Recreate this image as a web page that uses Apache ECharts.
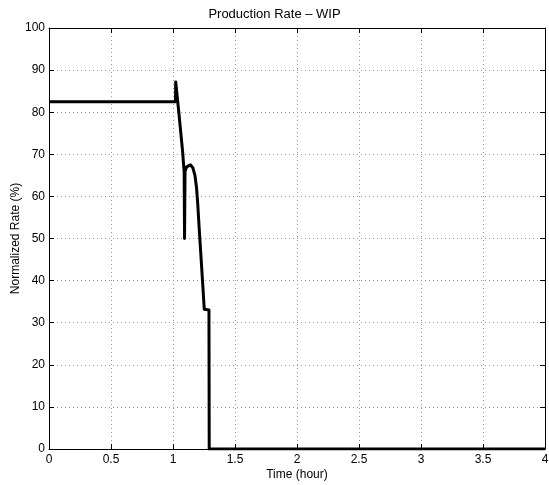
<!DOCTYPE html>
<html>
<head>
<meta charset="utf-8">
<script src="https://cdn.jsdelivr.net/npm/echarts@6/dist/echarts.min.js"></script>
<style>
  html, body { margin: 0; padding: 0; background: #fff; }
  #chart { width: 549px; height: 485px; }
</style>
</head>
<body>
<div id="chart"></div>
<script>
// Production rate trace (normalized %) against time in hours
const timeHours = [0, 1.0, 1.02, 1.022, 1.05, 1.078, 1.088, 1.09, 1.093, 1.097, 1.11, 1.125, 1.14, 1.16, 1.177, 1.19, 1.2, 1.21, 1.225, 1.24, 1.252, 1.29, 1.292, 4.0];
const rateValues = [82.5, 82.5, 82.5, 87.2, 79, 70.5, 66.5, 66, 50, 66, 67, 67.4, 67.5, 66.8, 65, 62, 58, 53, 46, 39, 33.2, 33, 0, 0];

const xTicks = { min: 0, max: 4, step: 0.5 };
const yTicks = { min: 0, max: 100, step: 10 };

const titleText = 'Production Rate \u2013 WIP';
const xLabel = 'Time (hour)';
const yLabel = 'Normalized Rate (%)';

const font = 'Liberation Sans, Arial, Helvetica, sans-serif';
const seriesData = timeHours.map((t, i) => [t, rateValues[i]]);

const gridLine = { show: true, lineStyle: { color: '#999', type: [1, 3], width: 1 } };
const axisLine = { show: true, onZero: false, lineStyle: { color: '#000', width: 1 } };
const inTick = { show: true, inside: true, length: 5, lineStyle: { color: '#000' } };

const chart = echarts.init(document.getElementById('chart'), null, { renderer: 'canvas' });
chart.setOption({
  animation: false,
  backgroundColor: '#fff',
  title: {
    text: titleText,
    left: 'center',
    top: 3,
    textStyle: { fontFamily: font, fontSize: 13, fontWeight: 'normal', color: '#000' }
  },
  grid: { left: 49, right: 4, top: 28, bottom: 36, containLabel: false, outerBoundsMode: 'none' },
  xAxis: [
    {
      type: 'value', min: xTicks.min, max: xTicks.max, interval: xTicks.step,
      position: 'bottom',
      name: xLabel, nameLocation: 'middle', nameGap: 20, nameMoveOverlap: false,
      nameTextStyle: { fontFamily: font, fontSize: 12, color: '#000' },
      axisLine: axisLine, axisTick: inTick, splitLine: gridLine,
      axisLabel: { fontFamily: font, fontSize: 12, color: '#000', margin: 5 }
    },
    {
      type: 'value', min: xTicks.min, max: xTicks.max, interval: xTicks.step,
      position: 'top',
      axisLine: axisLine, axisTick: inTick, splitLine: { show: false },
      axisLabel: { show: false }
    }
  ],
  yAxis: [
    {
      type: 'value', min: yTicks.min, max: yTicks.max, interval: yTicks.step,
      position: 'left',
      name: yLabel, nameLocation: 'middle', nameGap: 27, nameRotate: 90, nameMoveOverlap: false,
      nameTextStyle: { fontFamily: font, fontSize: 12, color: '#000' },
      axisLine: axisLine, axisTick: inTick, splitLine: gridLine,
      axisLabel: { fontFamily: font, fontSize: 12, color: '#000', margin: 4 }
    },
    {
      type: 'value', min: yTicks.min, max: yTicks.max, interval: yTicks.step,
      position: 'right',
      axisLine: axisLine, axisTick: inTick, splitLine: { show: false },
      axisLabel: { show: false }
    }
  ],
  series: [
    {
      type: 'line',
      data: seriesData,
      xAxisIndex: 0,
      yAxisIndex: 0,
      showSymbol: false,
      lineStyle: { color: '#000', width: 3, join: 'round' },
      z: 5
    }
  ]
});
</script>
</body>
</html>
